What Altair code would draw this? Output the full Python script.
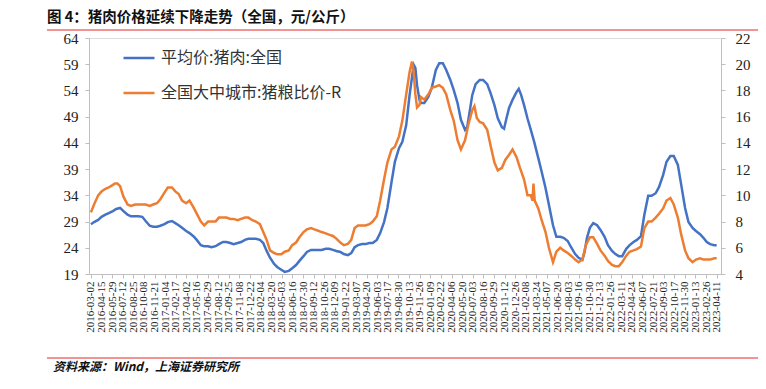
import altair as alt
import pandas as pd

TITLE = "图 4：猪肉价格延续下降走势（全国，元/公斤）"
SOURCE = "资料来源：Wind，上海证券研究所"
SERIES = ["平均价:猪肉:全国", "全国大中城市:猪粮比价-R"]
COLORS = ["#4472C4", "#ED7D31"]

X_LABELS = [
    "2016-03-02", "2016-04-15", "2016-05-29", "2016-07-12", "2016-08-25", "2016-10-08",
    "2016-11-21", "2017-01-04", "2017-02-17", "2017-04-02", "2017-05-16", "2017-06-29",
    "2017-08-12", "2017-09-25", "2017-11-08", "2017-12-22", "2018-02-04", "2018-03-20",
    "2018-05-03", "2018-06-16", "2018-07-30", "2018-09-12", "2018-10-26", "2018-12-09",
    "2019-01-22", "2019-03-07", "2019-04-20", "2019-06-03", "2019-07-17", "2019-08-30",
    "2019-10-13", "2019-11-26", "2020-01-09", "2020-02-22", "2020-04-06", "2020-05-20",
    "2020-07-03", "2020-08-16", "2020-09-29", "2020-11-12", "2020-12-26", "2021-02-08",
    "2021-03-24", "2021-05-07", "2021-06-20", "2021-08-03", "2021-09-16", "2021-10-30",
    "2021-12-13", "2022-01-26", "2022-03-11", "2022-04-24", "2022-06-07", "2022-07-21",
    "2022-09-03", "2022-10-17", "2022-11-30", "2023-01-13", "2023-02-26", "2023-04-11",
]
LEFT_TICKS = [19, 24, 29, 34, 39, 44, 49, 54, 59, 64]
RIGHT_TICKS = [4, 6, 8, 10, 12, 14, 16, 18, 20, 22]

PORK_DATES = [
    "2016-03-02", "2016-03-15", "2016-04-01", "2016-04-15", "2016-05-01", "2016-05-15",
    "2016-06-01", "2016-06-15", "2016-07-01", "2016-07-15", "2016-08-01", "2016-08-15",
    "2016-09-01", "2016-09-15", "2016-10-01", "2016-10-15", "2016-11-01", "2016-11-15",
    "2016-12-01", "2016-12-15",
    "2017-01-01", "2017-01-15", "2017-02-01", "2017-02-15", "2017-03-01", "2017-03-15",
    "2017-04-01", "2017-04-15", "2017-05-01", "2017-05-15", "2017-06-01", "2017-06-15",
    "2017-07-01", "2017-07-15", "2017-08-01", "2017-08-15", "2017-09-01", "2017-09-15",
    "2017-10-01", "2017-10-15", "2017-11-01", "2017-11-15", "2017-12-01", "2017-12-15",
    "2018-01-01", "2018-01-15", "2018-02-01", "2018-02-15", "2018-03-01", "2018-03-15",
    "2018-04-01", "2018-04-15", "2018-05-01", "2018-05-15", "2018-06-01", "2018-06-15",
    "2018-07-01", "2018-07-15", "2018-08-01", "2018-08-15", "2018-09-01", "2018-09-15",
    "2018-10-01", "2018-10-15", "2018-11-01", "2018-11-15", "2018-12-01", "2018-12-15",
    "2019-01-01", "2019-01-15", "2019-02-01", "2019-02-15", "2019-03-01", "2019-03-15",
    "2019-04-01", "2019-04-15", "2019-05-01", "2019-05-15", "2019-06-01", "2019-06-15",
    "2019-07-01", "2019-07-15", "2019-08-01", "2019-08-15", "2019-09-01", "2019-09-15",
    "2019-10-01", "2019-10-15", "2019-11-01", "2019-11-08", "2019-11-15", "2019-11-25",
    "2019-12-01", "2019-12-15",
    "2020-01-01", "2020-01-15", "2020-02-01", "2020-02-15", "2020-03-01", "2020-03-15",
    "2020-04-01", "2020-04-15", "2020-05-01", "2020-05-15", "2020-06-01", "2020-06-10",
    "2020-06-20", "2020-07-01", "2020-07-15", "2020-08-01", "2020-08-15", "2020-09-01",
    "2020-09-15", "2020-10-01", "2020-10-15", "2020-11-01", "2020-11-10", "2020-11-20",
    "2020-12-01", "2020-12-15",
    "2021-01-01", "2021-01-10", "2021-01-20", "2021-02-01", "2021-02-15", "2021-03-01",
    "2021-03-15", "2021-04-01", "2021-04-15", "2021-05-01", "2021-05-15", "2021-06-01",
    "2021-06-15", "2021-07-01", "2021-07-15", "2021-08-01", "2021-08-15", "2021-09-01",
    "2021-09-15", "2021-10-01", "2021-10-10", "2021-10-20", "2021-11-01", "2021-11-15",
    "2021-12-01", "2021-12-15",
    "2022-01-01", "2022-01-15", "2022-02-01", "2022-02-15", "2022-03-01", "2022-03-15",
    "2022-04-01", "2022-04-15", "2022-05-01", "2022-05-15", "2022-06-01", "2022-06-15",
    "2022-07-01", "2022-07-15", "2022-08-01", "2022-08-15", "2022-09-01", "2022-09-15",
    "2022-10-01", "2022-10-15", "2022-11-01", "2022-11-15", "2022-12-01", "2022-12-15",
    "2023-01-01", "2023-01-15", "2023-02-01", "2023-02-15", "2023-03-01", "2023-03-15",
    "2023-04-01", "2023-04-11",
]
PORK_VALUES = [
    28.5, 28.9, 29.3, 29.9, 30.3, 30.6, 31.0, 31.4, 31.6, 31.0, 30.3, 30.0,
    30.0, 30.0, 29.9, 29.1, 28.2, 28.0, 28.0, 28.2,
    28.5, 28.9, 29.1, 28.7, 28.3, 27.8, 27.2, 26.8, 26.2, 25.5, 24.5, 24.3,
    24.3, 24.1, 24.3, 24.7, 25.1, 25.1, 24.9, 24.7, 24.9, 25.1, 25.5, 25.7,
    25.7, 25.7, 25.5, 24.9, 23.4, 22.1, 20.9, 20.3, 19.8, 19.4, 19.6, 20.1,
    20.7, 21.5, 22.4, 23.2, 23.6, 23.6, 23.6, 23.6, 23.8, 23.8, 23.6, 23.4,
    23.2, 22.8, 22.6, 23.0, 24.1, 24.5, 24.7, 24.7, 24.9, 24.9, 25.5, 26.8,
    28.9, 31.6, 36.5, 40.4, 43.0, 44.2, 47.4, 53.1, 58.9, 58.3, 55.0, 52.2,
    51.6, 51.6,
    52.8, 54.5, 57.9, 59.2, 59.2, 57.9, 56.0, 54.1, 51.6, 48.4, 46.5, 47.0,
    49.9, 53.1, 55.2, 56.0, 56.0, 55.2, 53.5, 51.2, 48.7, 47.0, 46.7, 48.7,
    50.7, 52.2,
    53.7, 54.3, 53.1, 51.2, 48.7, 46.5, 44.2, 41.1, 38.5, 35.4, 32.2, 28.3,
    26.1, 26.1, 25.9, 25.3, 24.1, 22.8, 22.1, 21.7, 23.2, 25.9, 27.8, 28.7,
    28.3, 27.4,
    26.1, 24.5, 23.4, 22.8, 22.4, 22.4, 23.8, 24.5, 25.1, 25.5, 26.2, 30.3,
    33.9, 33.9, 34.4, 35.6, 37.9, 40.4, 41.5, 41.5, 39.8, 36.0, 31.6, 28.9,
    27.8, 27.2, 26.6, 25.9, 25.1, 24.7, 24.5, 24.5,
]

RATIO_DATES = [
    "2016-03-02", "2016-03-15", "2016-04-01", "2016-04-15", "2016-05-01", "2016-05-15",
    "2016-06-01", "2016-06-10", "2016-06-20", "2016-07-01", "2016-07-15", "2016-08-01",
    "2016-08-15", "2016-09-01", "2016-09-15", "2016-10-01", "2016-10-15", "2016-11-01",
    "2016-11-15", "2016-12-01", "2016-12-15",
    "2017-01-01", "2017-01-15", "2017-02-01", "2017-02-15", "2017-03-01", "2017-03-15",
    "2017-04-01", "2017-04-15", "2017-05-01", "2017-05-15", "2017-06-01", "2017-06-15",
    "2017-07-01", "2017-07-15", "2017-08-01", "2017-08-15", "2017-09-01", "2017-09-15",
    "2017-10-01", "2017-10-15", "2017-11-01", "2017-11-15", "2017-12-01", "2017-12-15",
    "2018-01-01", "2018-01-15", "2018-02-01", "2018-02-15", "2018-03-01", "2018-03-15",
    "2018-04-01", "2018-04-15", "2018-05-01", "2018-05-15", "2018-06-01", "2018-06-15",
    "2018-07-01", "2018-07-15", "2018-08-01", "2018-08-15", "2018-09-01", "2018-09-15",
    "2018-10-01", "2018-10-15", "2018-11-01", "2018-11-15", "2018-12-01", "2018-12-15",
    "2019-01-01", "2019-01-15", "2019-02-01", "2019-02-15", "2019-03-01", "2019-03-15",
    "2019-04-01", "2019-04-15", "2019-05-01", "2019-05-15", "2019-06-01", "2019-06-15",
    "2019-07-01", "2019-07-15", "2019-08-01", "2019-08-15", "2019-09-01", "2019-09-15",
    "2019-10-01", "2019-10-15", "2019-10-25", "2019-11-01", "2019-11-08", "2019-11-15",
    "2019-11-25", "2019-12-01", "2019-12-15",
    "2020-01-01", "2020-01-15", "2020-02-01", "2020-02-15", "2020-03-01", "2020-03-15",
    "2020-04-01", "2020-04-15", "2020-05-01", "2020-05-15", "2020-06-01", "2020-06-15",
    "2020-07-01", "2020-07-10", "2020-07-20", "2020-08-01", "2020-08-15", "2020-09-01",
    "2020-09-15", "2020-10-01", "2020-10-15", "2020-11-01", "2020-11-15", "2020-12-01",
    "2020-12-15",
    "2021-01-01", "2021-01-15", "2021-02-01", "2021-02-15", "2021-03-01", "2021-03-08",
    "2021-03-12", "2021-03-17", "2021-04-01", "2021-04-15", "2021-05-01", "2021-05-15",
    "2021-06-01", "2021-06-15", "2021-07-01", "2021-07-15", "2021-08-01", "2021-08-15",
    "2021-09-01", "2021-09-15", "2021-10-01", "2021-10-15", "2021-11-01", "2021-11-15",
    "2021-12-01", "2021-12-15",
    "2022-01-01", "2022-01-15", "2022-02-01", "2022-02-15", "2022-03-01", "2022-03-15",
    "2022-04-01", "2022-04-15", "2022-05-01", "2022-05-15", "2022-06-01", "2022-06-15",
    "2022-07-01", "2022-07-15", "2022-08-01", "2022-08-15", "2022-09-01", "2022-09-15",
    "2022-10-01", "2022-10-15", "2022-11-01", "2022-11-15", "2022-12-01", "2022-12-15",
    "2023-01-01", "2023-01-15", "2023-02-01", "2023-02-15", "2023-03-01", "2023-03-15",
    "2023-04-01", "2023-04-11",
]
RATIO_VALUES = [
    8.7, 9.3, 10.0, 10.3, 10.5, 10.6, 10.8, 10.9, 10.9, 10.7, 9.9, 9.3,
    9.2, 9.3, 9.3, 9.3, 9.3, 9.2, 9.3, 9.4, 9.7,
    10.2, 10.6, 10.6, 10.3, 10.1, 9.6, 9.4, 9.6, 9.1, 8.6, 8.0, 7.7,
    8.0, 8.0, 8.0, 8.3, 8.3, 8.3, 8.2, 8.2, 8.1, 8.2, 8.3, 8.3,
    8.1, 8.0, 7.8, 7.2, 6.6, 5.8, 5.6, 5.5, 5.5, 5.7, 5.8, 6.2,
    6.4, 6.8, 7.2, 7.4, 7.5, 7.4, 7.3, 7.2, 7.1, 7.0, 6.9, 6.7,
    6.4, 6.2, 6.3, 6.6, 7.5, 7.7, 7.7, 7.7, 7.8, 8.0, 8.4, 9.6,
    11.2, 12.5, 13.5, 13.7, 14.5, 15.7, 17.7, 19.4, 20.2, 19.4, 17.7, 16.7,
    16.9, 17.5, 17.3,
    17.7, 18.2, 18.3, 18.4, 18.2, 17.7, 16.5, 15.7, 14.2, 13.5, 14.2, 15.4,
    16.5, 16.8, 15.9, 15.6, 15.5, 15.0, 13.8, 12.5, 11.9, 12.1, 12.7, 13.1,
    13.5,
    12.9, 12.1, 11.2, 10.0, 10.0, 9.6, 10.9, 9.6, 9.0, 8.1, 7.2, 6.0,
    4.9, 5.7, 6.0, 5.8, 5.6, 5.4, 5.1, 4.9, 5.1, 6.2, 6.8, 6.8,
    6.3, 5.8,
    5.4, 5.0, 4.7, 4.6, 4.6, 4.9, 5.4, 5.7, 5.8, 5.9, 6.1, 7.5,
    8.0, 8.0, 8.3, 8.6, 9.0, 9.6, 9.8, 9.3, 8.3, 7.0, 5.8, 5.2,
    4.9, 5.1, 5.2, 5.1, 5.1, 5.1, 5.2, 5.2,
]

START = pd.Timestamp(X_LABELS[0])
tick_days = [(pd.Timestamp(d) - START).days for d in X_LABELS]

pork = pd.DataFrame({"date": PORK_DATES, "value": PORK_VALUES, "series": SERIES[0]})
ratio = pd.DataFrame({"date": RATIO_DATES, "value": RATIO_VALUES, "series": SERIES[1]})
for df in (pork, ratio):
    df["day"] = (pd.to_datetime(df["date"]) - START).dt.days

label_expr = (
    "[" + ",".join("'" + s + "'" for s in X_LABELS) + "]"
    + "[indexof([" + ",".join(str(d) for d in tick_days) + "], datum.value)]"
)

W, H = 632, 236
SERIF = "Liberation Serif"
CJK = "Noto Sans CJK SC"
AXIS_GRAY = "#BFBFBF"

x_enc = alt.X(
    "day:Q",
    scale=alt.Scale(domain=[-8, tick_days[-1] + 18], nice=False, zero=False),
    axis=alt.Axis(
        values=tick_days, labelExpr=label_expr, labelAngle=-90, labelFont=SERIF,
        labelFontSize=11, labelColor="#222222", labelOverlap=False, labelFlush=False,
        labelPadding=3, tickSize=4, tickColor=AXIS_GRAY, domainColor=AXIS_GRAY,
        grid=False, title=None,
    ),
)

color_enc = alt.Color(
    "series:N",
    scale=alt.Scale(domain=SERIES, range=COLORS),
    legend=alt.Legend(
        orient="none", legendX=33, legendY=3, title=None, symbolType="stroke",
        symbolSize=961, symbolStrokeWidth=2.5, labelFont=CJK, labelFontSize=16,
        labelColor="#333333", labelOffset=5, rowPadding=10, padding=0, labelLimit=400,
    ),
)

blue = alt.Chart(pork).mark_line(strokeWidth=2.5).encode(
    x=x_enc,
    y=alt.Y(
        "value:Q",
        scale=alt.Scale(domain=[LEFT_TICKS[0], LEFT_TICKS[-1]], nice=False, zero=False),
        axis=alt.Axis(
            values=LEFT_TICKS, orient="left", labelFont=SERIF, labelFontSize=15,
            labelColor="#222222", tickSize=4, tickColor=AXIS_GRAY, domainColor=AXIS_GRAY,
            labelPadding=7, grid=False, title=None,
        ),
    ),
    color=color_enc,
)

orange = alt.Chart(ratio).mark_line(strokeWidth=2.5).encode(
    x=x_enc,
    y=alt.Y(
        "value:Q",
        scale=alt.Scale(domain=[RIGHT_TICKS[0], RIGHT_TICKS[-1]], nice=False, zero=False),
        axis=alt.Axis(
            values=RIGHT_TICKS, orient="right", labelFont=SERIF, labelFontSize=15,
            labelColor="#222222", tickSize=4, tickColor=AXIS_GRAY, domainColor=AXIS_GRAY,
            labelPadding=10, grid=False, title=None,
        ),
    ),
    color=color_enc,
)

lines = alt.layer(blue, orange).resolve_scale(y="independent")

title_text = alt.Chart(pd.DataFrame({"t": [TITLE]})).mark_text(
    align="left", baseline="top", font=CJK, fontWeight="bold", fontSize=14.5,
    color="#111111",
).encode(text="t:N", x=alt.value(-42), y=alt.value(-27))

source_text = alt.Chart(pd.DataFrame({"t": [SOURCE]})).mark_text(
    align="left", baseline="top", font=CJK, fontWeight="bold", fontStyle="italic",
    fontSize=12, color="#111111",
).encode(text="t:N", x=alt.value(-36), y=alt.value(324))

top_rule = alt.Chart(pd.DataFrame({"t": [0]})).mark_rule(
    color="#EE7070", strokeWidth=1.5
).encode(x=alt.value(-42), x2=alt.value(669), y=alt.value(-8))

bottom_rule = alt.Chart(pd.DataFrame({"t": [0]})).mark_rule(
    color="#EE7070", strokeWidth=1.5
).encode(x=alt.value(-42), x2=alt.value(669), y=alt.value(320))

chart = alt.layer(lines, title_text, source_text, top_rule, bottom_rule).properties(
    width=W, height=H,
    autosize=alt.AutoSizeParams(type="none"),
    padding={"left": 81, "top": 30, "right": 37, "bottom": 102},
).configure_view(strokeWidth=0).configure(background="white")

chart.save("out.html", embed_options={"renderer": "svg", "actions": False})
